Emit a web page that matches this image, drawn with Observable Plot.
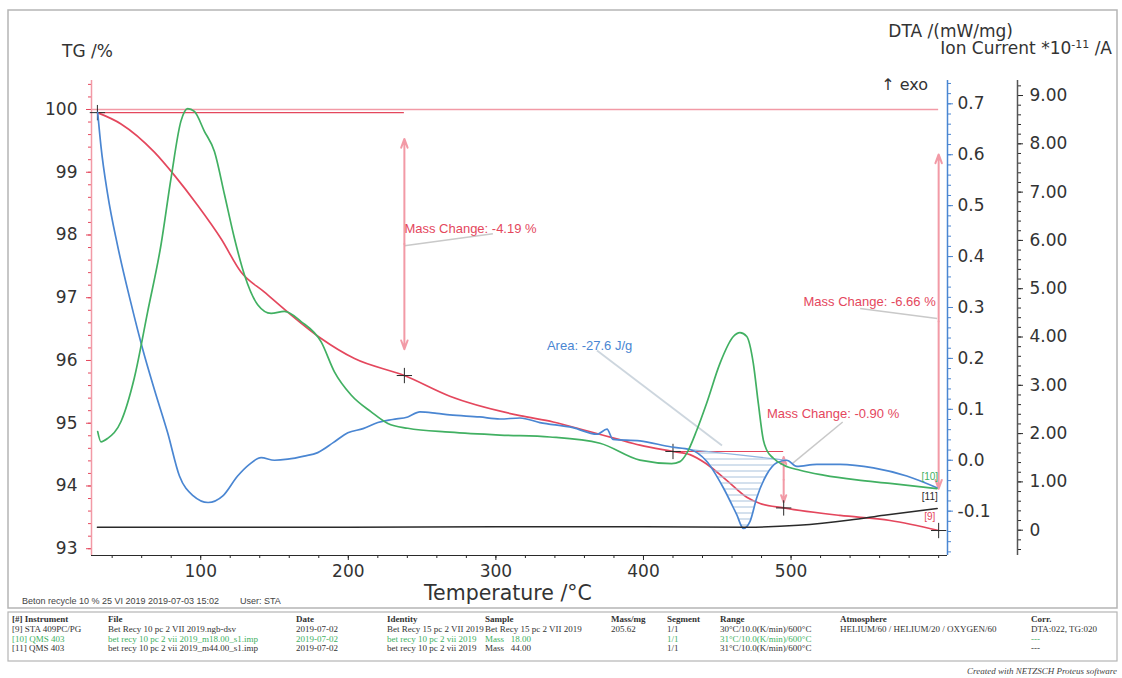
<!DOCTYPE html>
<html>
<head>
<meta charset="utf-8">
<script src="https://cdn.jsdelivr.net/npm/d3@7"></script>
<script src="https://cdn.jsdelivr.net/npm/@observablehq/plot@0.6"></script>
<style>
  html, body { margin: 0; padding: 0; background: #fff; }
  #chart { position: relative; width: 1122px; height: 678px; overflow: hidden; }
  #chart svg { position: absolute; left: 0; top: 0; }
</style>
</head>
<body>
<div id="chart"></div>
<script>
// ---- TG (mass, %) ----
const tgTemp = [30, 46, 68.6, 82.2, 98, 113.8, 127.3, 143.2, 159, 181.6, 204.2, 238, 268.8, 316.3, 338.8, 361.5, 381.8, 397.6, 420, 431.5, 442.8, 456.4, 470, 479, 495, 533.2, 567.1, 600];
const tgMass = [99.95, 99.77, 99.32, 98.95, 98.47, 97.94, 97.41, 97.09, 96.77, 96.35, 96.03, 95.76, 95.43, 95.12, 95.02, 94.88, 94.75, 94.65, 94.55, 94.50, 94.35, 94.09, 93.82, 93.72, 93.65, 93.53, 93.45, 93.29];

// ---- DTA (mW/mg) ----
const dtaTemp = [30.2, 32.4, 36.9, 43.7, 52.7, 60.7, 68.6, 77.6, 85.6, 95, 105, 115, 125, 133, 140.9, 150, 159, 170, 179.3, 190, 199.7, 210, 220, 230, 240.3, 248.5, 260, 268.8, 289, 302.7, 316.3, 329.8, 352.2, 368.5, 375.3, 379.3, 397.6, 419.1, 431.5, 442.8, 454.1, 463.2, 467.7, 472.2, 476.7, 483.5, 490.3, 497.1, 503.9, 517.4, 533.2, 555.8, 578.4, 598.8];
const dtaSignal = [0.683, 0.617, 0.523, 0.421, 0.309, 0.218, 0.139, 0.054, -0.031, -0.070, -0.083, -0.070, -0.031, -0.008, 0.005, 0.000, 0.002, 0.008, 0.015, 0.035, 0.054, 0.062, 0.074, 0.080, 0.085, 0.095, 0.092, 0.089, 0.085, 0.081, 0.083, 0.074, 0.064, 0.051, 0.061, 0.041, 0.038, 0.026, 0.021, -0.002, -0.054, -0.107, -0.134, -0.120, -0.074, -0.028, -0.005, 0.000, -0.012, -0.008, -0.008, -0.015, -0.031, -0.054];

// ---- Ion current m/z 18 (*1e-11 A) ----
const ms18Temp = [30.2, 32.4, 36.9, 46, 55, 64.1, 73.1, 79.9, 86.6, 91.2, 95.7, 102.5, 109.3, 116.1, 122.8, 129.6, 138.6, 147.7, 156.7, 168, 181.6, 190.6, 201.9, 215.5, 226.8, 240.3, 268.8, 302.7, 336.6, 370.5, 397.6, 419.1, 424.7, 429.3, 436.1, 442.8, 451.9, 460.9, 465.4, 470, 474.4, 477.8, 481.2, 483.5, 488, 494.8, 506.1, 521.9, 544.5, 567.1, 598.8];
const ms18Current = [2.04, 1.83, 1.90, 2.25, 3.15, 4.53, 5.91, 7.29, 8.47, 8.73, 8.67, 8.26, 7.84, 6.95, 6.05, 5.29, 4.67, 4.49, 4.53, 4.32, 3.90, 3.28, 2.80, 2.45, 2.21, 2.11, 2.03, 1.97, 1.93, 1.80, 1.45, 1.38, 1.42, 1.59, 2.07, 2.63, 3.46, 4.01, 4.09, 4.01, 3.46, 2.63, 1.87, 1.66, 1.49, 1.35, 1.24, 1.14, 1.04, 0.97, 0.86];

// ---- Ion current m/z 44 (*1e-11 A) ----
const ms44Temp = [30, 100, 200, 300, 400, 470, 505, 540, 563, 599];
const ms44Current = [0.06, 0.06, 0.06, 0.07, 0.07, 0.06, 0.10, 0.21, 0.31, 0.45];

// ---- Axis ticks ----
const tempTicks = [100, 200, 300, 400, 500];
const tgTicks = [93, 94, 95, 96, 97, 98, 99, 100];
const dtaTicks = [-0.1, 0.0, 0.1, 0.2, 0.3, 0.4, 0.5, 0.6, 0.7];
const ionTicks = [0, 1, 2, 3, 4, 5, 6, 7, 8, 9];

// ---- TG evaluation steps (start temperature, end temperature, start level, change %) ----
const stepStart = [30, 420, 30];
const stepEnd = [238, 495, 600];
const stepLevel = [99.95, 94.55, 99.95];
const stepChange = [-4.19, -0.90, -6.66];

// ---- DTA peak integration ----
const peakStart = 431.5, peakEnd = 497.1, peakArea = -27.6;

// ---- Layout of the shared frame ----
const W = 1122, H = 610;
const margins = {marginLeft: 91, marginRight: 175, marginTop: 80, marginBottom: 55};
const xDomain = [26, 606];
const tgDomain = [92.892, 100.462];
const dtaDomain = [-0.1871, 0.7458];
const ionDomain = [-0.524, 9.311];
const ionAxisOffset = 70;

const cRed = "#e4475d", cRedLight = "#f29aa6", cBlue = "#4a86d2", cGreen = "#41b062", cBlack = "#2a2a2a", cText = "#333";
const axisFont = "DejaVu Sans, sans-serif";
const noteFont = "Liberation Sans, Arial, sans-serif";

const range = (a, b, s) => d3.range(Math.round(a / s), Math.round(b / s) + 1).map(k => +(k * s).toFixed(4));

const tg = tgTemp.map((t, i) => ({t, v: tgMass[i]}));
const dta = dtaTemp.map((t, i) => ({t, v: dtaSignal[i]}));
const ms18 = ms18Temp.map((t, i) => ({t, v: ms18Current[i]}));
const ms44 = ms44Temp.map((t, i) => ({t, v: ms44Current[i]}));

// each step: arrow drawn between the two levels, inset by 10 % of the step at both ends
const steps = stepChange.map((c, i) => {
  const from = stepLevel[i], to = from + c;
  return {start: stepStart[i], t: stepEnd[i], from, to, mid: (from + to) / 2,
          top: from + 0.1 * c, bottom: to - 0.1 * c, label: `Mass Change: ${c.toFixed(2)} %`};
});
const stepMarks = steps.flatMap(s => [{t: s.start, v: s.from}, {t: s.t, v: s.to}])
  .filter((d, i, a) => a.findIndex(e => e.t === d.t && Math.abs(e.v - d.v) < 1e-9) === i);

// Label placement for the evaluation results
const stepNotes = [
  {x: 238, y: 98.10, anchor: "start", lx1: 238, ly1: 97.83, lx2: 298, ly2: 98.02},
  {x: 483.7, y: 95.15, anchor: "start", lx1: 535, ly1: 95.02, lx2: 501, ly2: 94.36},
  {x: 598, y: 96.93, anchor: "end", lx1: 546.8, ly1: 96.83, lx2: 599, ly2: 96.67}
].map((n, i) => ({...n, label: steps[i].label}));

// DTA peak baseline and area
const p0 = dta.find(d => d.t === peakStart), p1 = dta.find(d => d.t === peakEnd);
const peakRows = dta.filter(d => d.t >= peakStart && d.t <= peakEnd)
  .map(d => ({t: d.t, v: d.v, base: p0.v + (p1.v - p0.v) * (d.t - peakStart) / (peakEnd - peakStart)}));

const chart = document.getElementById("chart");

// ---------- TG plot with temperature axis ----------
const tgPlot = Plot.plot({
  width: W, height: H, ...margins,
  x: {domain: xDomain},
  y: {domain: tgDomain},
  style: {background: "transparent", overflow: "visible", fontFamily: axisFont},
  marks: [
    // axes
    Plot.axisX({ticks: range(40, 600, 20), tickSize: 3, tickFormat: () => "", stroke: cBlack, label: null}),
    Plot.axisX({ticks: tempTicks, tickSize: 5, tickPadding: 4, tickFormat: d => String(d), stroke: cBlack, fill: cText, fontSize: 17, label: null}),
    Plot.axisY({ticks: range(93, 100.4, 0.2), tickSize: 3, tickFormat: () => "", stroke: cRed, label: null}),
    Plot.axisY({ticks: tgTicks, tickSize: 5, tickPadding: 9, tickFormat: d => String(d), stroke: cRed, fill: cText, fontSize: 17, label: null}),
    Plot.ruleX([xDomain[0]], {stroke: cRedLight, strokeWidth: 1.5}),
    Plot.ruleY([tgDomain[0]], {stroke: cBlack, strokeWidth: 1.2}),
    // 100 % reference and step levels
    Plot.ruleY([100], {x1: 26, x2: 600, stroke: cRedLight, strokeWidth: 1.5}),
    Plot.ruleY(steps.slice(0, 2), {y: "from", x1: "start", x2: "t", stroke: cRed, strokeWidth: 1.1}),
    // leader lines
    Plot.link(stepNotes, {x1: "lx1", y1: "ly1", x2: "lx2", y2: "ly2", stroke: "#c9c9c9", strokeWidth: 1.5}),
    // step arrows (double headed)
    Plot.arrow(steps, {x1: "t", x2: "t", y1: "mid", y2: "top", stroke: cRedLight, strokeWidth: 2, headLength: 7, headAngle: 40}),
    Plot.arrow(steps, {x1: "t", x2: "t", y1: "mid", y2: "bottom", stroke: cRedLight, strokeWidth: 2, headLength: 7, headAngle: 40}),
    // TG curve
    Plot.line(tg, {x: "t", y: "v", stroke: cRed, strokeWidth: 1.7, curve: "monotone-x"}),
    Plot.dot(stepMarks, {x: "t", y: "v", symbol: "plus", r: 5, stroke: cBlack, strokeWidth: 1}),
    Plot.text(stepNotes.filter(n => n.anchor === "start"), {x: "x", y: "y", text: "label", textAnchor: "start", fill: cRed, fontSize: 13, fontFamily: noteFont}),
    Plot.text(stepNotes.filter(n => n.anchor === "end"), {x: "x", y: "y", text: "label", textAnchor: "end", fill: cRed, fontSize: 13, fontFamily: noteFont}),
    Plot.text(["[9]"], {x: 594, y: 93.51, fill: cRed, fontSize: 10, fontFamily: noteFont})
  ]
});
chart.appendChild(tgPlot);

// ---------- DTA plot ----------
const dtaPlot = Plot.plot({
  width: W, height: H, ...margins,
  x: {domain: xDomain, axis: null},
  y: {domain: dtaDomain},
  style: {background: "transparent", overflow: "visible", fontFamily: axisFont},
  marks: [
    Plot.axisY({anchor: "right", ticks: range(-0.18, 0.74, 0.02), tickSize: 3, tickFormat: () => "", stroke: cBlue, label: null}),
    Plot.axisY({anchor: "right", ticks: dtaTicks, tickSize: 5, tickPadding: 5, tickFormat: d => d.toFixed(1), stroke: cBlue, fill: cText, fontSize: 17, label: null}),
    Plot.ruleX([xDomain[1]], {stroke: cBlue, strokeWidth: 1.5}),
    Plot.areaY(peakRows, {x: "t", y1: "base", y2: "v", fill: "url(#dtaHatch)", curve: "monotone-x"}),
    Plot.line(peakRows, {x: "t", y: "base", stroke: "#8fb4df", strokeWidth: 1.2}),
    Plot.link([{x1: 368.5, y1: 0.2155, x2: 453.2, y2: 0.029}], {x1: "x1", y1: "y1", x2: "x2", y2: "y2", stroke: "#cdd6de", strokeWidth: 1.8}),
    Plot.line(dta, {x: "t", y: "v", stroke: cBlue, strokeWidth: 1.7, curve: "monotone-x"}),
    Plot.text([`Area: ${peakArea.toFixed(1)} J/g`], {x: 334.6, y: 0.2250, textAnchor: "start", fill: cBlue, fontSize: 13, fontFamily: noteFont})
  ]
});
// hatch pattern for the integrated peak
{
  const defs = d3.select(dtaPlot).insert("defs", ":first-child");
  const pat = defs.append("pattern").attr("id", "dtaHatch").attr("patternUnits", "userSpaceOnUse").attr("width", 8).attr("height", 6);
  pat.append("line").attr("x1", 0).attr("x2", 8).attr("y1", 3).attr("y2", 3).attr("stroke", "#a9c2dc").attr("stroke-width", 1);
}
chart.appendChild(dtaPlot);

// ---------- Ion current plot ----------
const ionPlot = Plot.plot({
  width: W, height: H, ...margins,
  x: {domain: xDomain, axis: null},
  y: {domain: ionDomain},
  style: {background: "transparent", overflow: "visible", fontFamily: axisFont},
  marks: [
    Plot.axisY({anchor: "right", dx: ionAxisOffset, ticks: range(-0.4, 9.2, 0.2), tickSize: 3, tickFormat: () => "", stroke: cBlack, label: null}),
    Plot.axisY({anchor: "right", dx: ionAxisOffset, ticks: ionTicks, tickSize: 5, tickPadding: 7, tickFormat: d => d === 0 ? "0" : d.toFixed(2), stroke: cBlack, fill: cText, fontSize: 17, label: null}),
    Plot.ruleX([xDomain[1]], {dx: ionAxisOffset, stroke: "#555", strokeWidth: 1.5}),
    Plot.line(ms44, {x: "t", y: "v", stroke: cBlack, strokeWidth: 1.5, curve: "monotone-x"}),
    Plot.line(ms18, {x: "t", y: "v", stroke: cGreen, strokeWidth: 1.7, curve: "monotone-x"}),
    Plot.text(["[10]", "[11]"], {x: [594, 594], y: [1.11, 0.70], text: d => d, fill: [cGreen, cBlack], fontSize: 10, fontFamily: noteFont})
  ]
});
chart.appendChild(ionPlot);

// ---------- Titles, frame and measurement table ----------
const headers = ["[#] Instrument", "File", "Date", "Identity", "Sample", "Mass/mg", "Segment", "Range", "Atmosphere", "Corr."];
const rowTG = ["[9] STA 409PC/PG", "Bet Recy 10 pc 2 VII 2019.ngb-dsv", "2019-07-02", "Bet Recy 15 pc 2 VII 2019", "Bet Recy 15 pc 2 VII 2019", "205.62", "1/1", "30°C/10.0(K/min)/600°C", "HELIUM/60 / HELIUM/20 / OXYGEN/60", "DTA:022, TG:020"];
const row18 = ["[10] QMS 403", "bet recy 10 pc 2 vii 2019_m18.00_s1.imp", "2019-07-02", "bet recy 10 pc 2 vii 2019", "Mass   18.00", "", "1/1", "31°C/10.0(K/min)/600°C", "", "---"];
const row44 = ["[11] QMS 403", "bet recy 10 pc 2 vii 2019_m44.00_s1.imp", "2019-07-02", "bet recy 10 pc 2 vii 2019", "Mass   44.00", "", "1/1", "31°C/10.0(K/min)/600°C", "", "---"];
const colX = [12, 108, 296, 387, 485, 611, 667, 720, 840, 1031];
const runInfo = ["Beton recycle 10 % 25 VI 2019", "2019-07-03 15:02", "User: STA"];
const runInfoX = [22, 148, 240];

const deco = d3.create("svg").attr("width", 1122).attr("height", 678).style("pointer-events", "none");
deco.append("rect").attr("x", 8).attr("y", 10).attr("width", 1109).attr("height", 598).attr("fill", "none").attr("stroke", "#b5b5b5").attr("stroke-width", 1.5);
deco.append("rect").attr("x", 8).attr("y", 612).attr("width", 1109).attr("height", 49).attr("fill", "none").attr("stroke", "#b5b5b5").attr("stroke-width", 1.2);

const title = (txt, x, y, size, anchor = "start") =>
  deco.append("text").attr("x", x).attr("y", y).attr("font-family", axisFont).attr("font-size", size).attr("fill", cText).attr("text-anchor", anchor).text(txt);
title("TG /%", 62, 57, 17);
title("DTA /(mW/mg)", 1013, 37, 17, "end");
{
  const t = deco.append("text").attr("x", 1112).attr("y", 54).attr("font-family", axisFont).attr("font-size", 17).attr("fill", cText).attr("text-anchor", "end");
  t.append("tspan").text("Ion Current *10");
  t.append("tspan").attr("font-size", 11).attr("dy", -6).text("-11");
  t.append("tspan").attr("dy", 6).text(" /A");
}
title("\u2191 exo", 928, 90, 16, "end");
title("Temperature /°C", 508, 600, 20.5, "middle");

runInfo.forEach((s, i) => {
  deco.append("text").attr("x", runInfoX[i]).attr("y", 604).attr("font-family", noteFont).attr("font-size", 9).attr("fill", "#444").text(s);
});

const tableRows = [[headers, 622, "#333", "bold"], [rowTG, 632, "#333", "normal"], [row18, 641.5, cGreen, "normal"], [row44, 651, "#333", "normal"]];
for (const [cells, y, color, weight] of tableRows) {
  cells.forEach((c, i) => {
    if (!c) return;
    deco.append("text").attr("x", colX[i]).attr("y", y).attr("font-family", "Liberation Serif, serif").attr("font-size", 9)
      .attr("font-weight", weight).attr("fill", color).attr("xml:space", "preserve").style("white-space", "pre").text(c);
  });
}
deco.append("text").attr("x", 1117).attr("y", 674).attr("text-anchor", "end").attr("font-family", "Liberation Serif, serif")
  .attr("font-style", "italic").attr("font-size", 9).attr("fill", "#444").text("Created with NETZSCH Proteus software");

chart.appendChild(deco.node());
</script>
</body>
</html>
